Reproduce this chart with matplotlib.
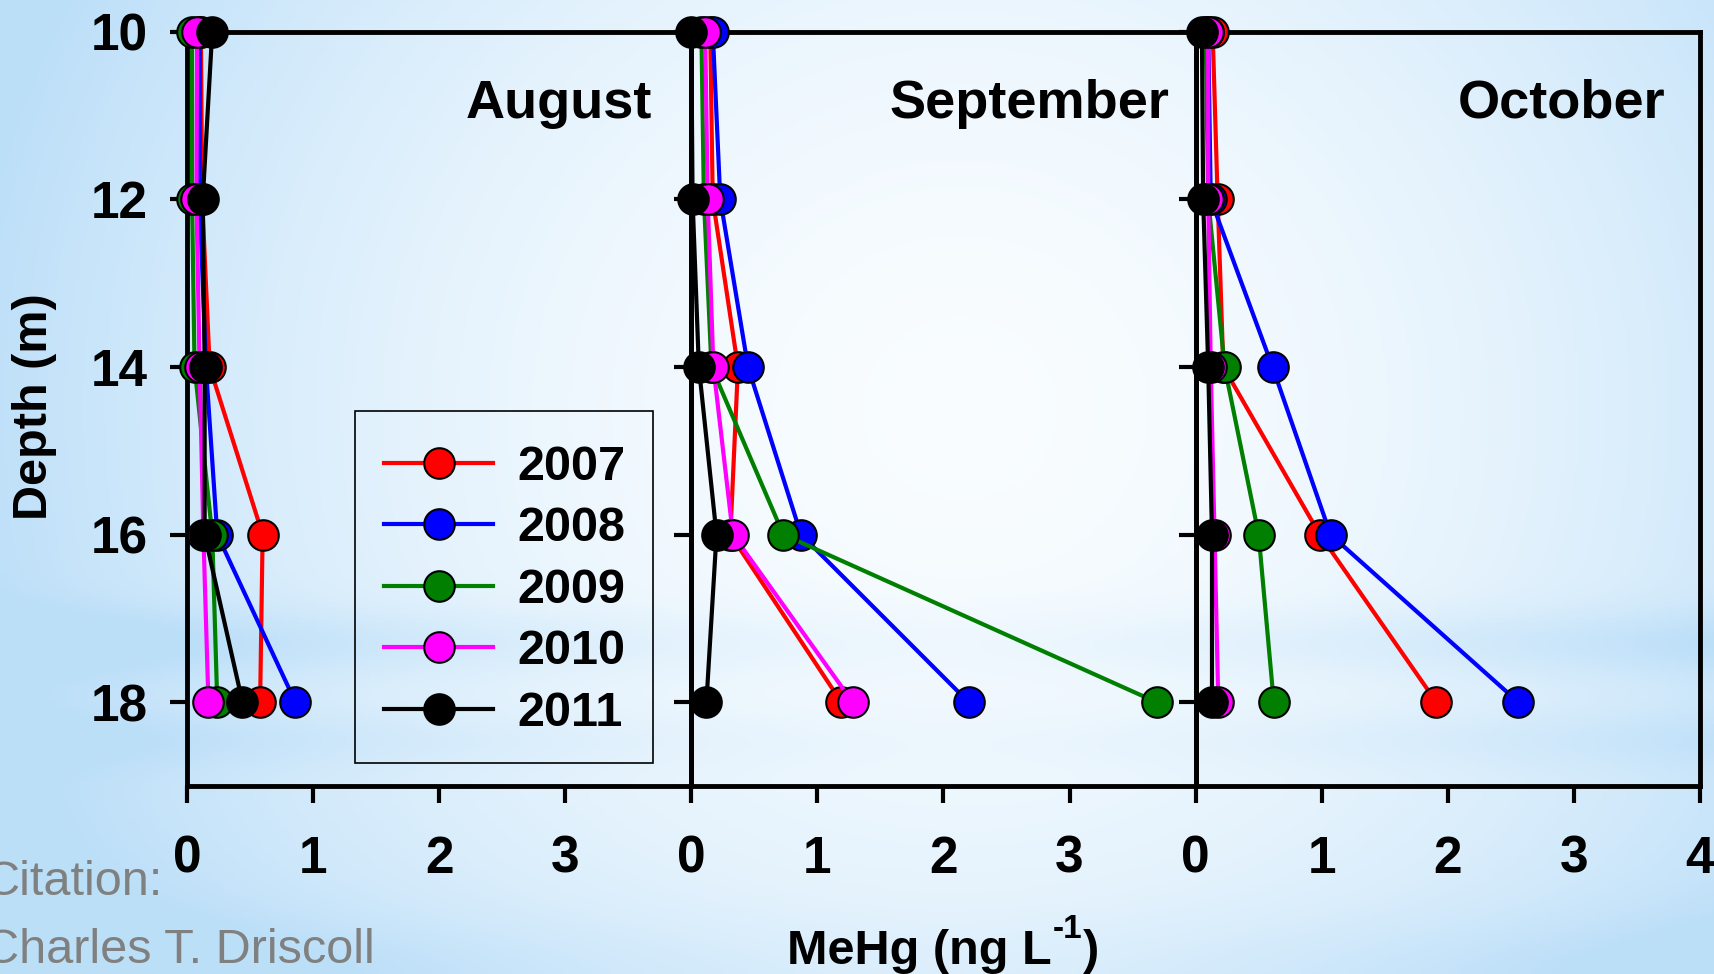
import numpy as np
import matplotlib
matplotlib.use("Agg")
import matplotlib.pyplot as plt
from matplotlib.lines import Line2D
from matplotlib.patches import Rectangle

plt.rcParams['font.family'] = ['Liberation Sans', 'DejaVu Sans']

# ---------------- data ----------------
depths = [10, 12, 14, 16, 18]
years = ['2007', '2008', '2009', '2010', '2011']
months = ['August', 'September', 'October']
colors = ['#FF0000', '#0000FF', '#007F00', '#FF00FF', '#000000']

aug_2007 = [0.11, 0.12, 0.18, 0.60, 0.58]
aug_2008 = [0.10, 0.10, 0.15, 0.24, 0.86]
aug_2009 = [0.04, 0.04, 0.06, 0.20, 0.24]
aug_2010 = [0.08, 0.075, 0.10, 0.13, 0.17]
aug_2011 = [0.20, 0.125, 0.14, 0.14, 0.44]

sep_2007 = [0.15, 0.17, 0.37, 0.31, 1.19]
sep_2008 = [0.17, 0.23, 0.45, 0.87, 2.20]
sep_2009 = [0.08, 0.10, 0.16, 0.73, 3.69]
sep_2010 = [0.11, 0.13, 0.175, 0.33, 1.28]
sep_2011 = [0.00, 0.01, 0.06, 0.20, 0.12]

oct_2007 = [0.135, 0.175, 0.22, 0.985, 1.91]
oct_2008 = [0.10, 0.12, 0.61, 1.07, 2.56]
oct_2009 = [0.08, 0.10, 0.23, 0.50, 0.62]
oct_2010 = [0.10, 0.10, 0.12, 0.15, 0.18]
oct_2011 = [0.05, 0.06, 0.10, 0.13, 0.13]

panels = [
    [aug_2007, aug_2008, aug_2009, aug_2010, aug_2011],
    [sep_2007, sep_2008, sep_2009, sep_2010, sep_2011],
    [oct_2007, oct_2008, oct_2009, oct_2010, oct_2011],
]

x_ticks_inner = [0, 1, 2, 3]
x_ticks_last = [0, 1, 2, 3, 4]
y_ticks = [10, 12, 14, 16, 18]

# ---------------- figure ----------------
W, H = 1715, 974
fig = plt.figure(figsize=(W / 100, H / 100), dpi=100)

# background gradient
bg = fig.add_axes([0, 0, 1, 1], zorder=-10)
yy, xx = np.mgrid[0:1:300j, 0:1:500j]
r = np.sqrt(((xx - 0.56) / 0.58) ** 2 + ((yy - 0.42) / 0.95) ** 2)
t = np.clip(r, 0, 1) ** 1.8
side = np.clip(np.abs(xx - 0.55) * 2.2, 0, 1)
band = np.exp(-((yy - 0.66) / 0.035) ** 2) * (0.25 + 0.75 * side)
band2 = np.exp(-((yy - 0.76) / 0.03) ** 2) * (0.2 + 0.6 * side)
bottom_t = np.exp(-((yy - 1.0) / 0.06) ** 2) * (0.2 + 0.8 * side)
t = np.clip(t + 0.35 * band + 0.25 * band2 + 0.3 * bottom_t, 0, 1)
c_in = np.array([0.975, 0.99, 1.0])
c_out = np.array([0.74, 0.875, 0.975])
img = c_in[None, None, :] * (1 - t[..., None]) + c_out[None, None, :] * t[..., None]
bg.imshow(img, aspect='auto', extent=[0, 1, 1, 0])
bg.set_xlim(0, 1)
bg.set_ylim(1, 0)
bg.axis('off')

left = 187 / W
pw = 504.3 / W
bottom = 1 - 786 / H
ph = (786 - 31.7) / H
month_x = [0.9215, 0.948, 0.931]

axes = []
for i in range(3):
    ax = fig.add_axes([left + i * pw, bottom, pw, ph])
    ax.patch.set_alpha(0)
    axes.append(ax)
    for k, (vals, col) in enumerate(zip(panels[i], colors)):
        ax.plot(vals, depths, color=col, lw=3, marker='o', ms=22,
                mfc=col, mec='black', mew=1.5, zorder=3 + k, clip_on=False)
    ax.set_xlim(0, 4)
    ax.set_ylim(19, 10)
    ax.set_yticks(y_ticks)
    ax.set_xticks(x_ticks_last if i == 2 else x_ticks_inner)
    ax.tick_params(axis='both', direction='out', length=12, width=3,
                   labelsize=37)
    ax.tick_params(axis='x', pad=23)
    ax.tick_params(axis='y', pad=16)
    for lab in ax.get_xticklabels() + ax.get_yticklabels():
        lab.set_fontweight('bold')
    if i > 0:
        ax.set_yticklabels([])
    for s in ax.spines.values():
        s.set_linewidth(3.5)
    ax.text(month_x[i], 0.886, months[i], transform=ax.transAxes, ha='right',
            va='baseline', fontsize=39, fontweight='bold')

# legend frame drawn separately, legend content without frame
frame = Rectangle((0.333, 0.0306), 0.9235 - 0.333, 0.4975 - 0.0306,
                  transform=axes[0].transAxes, fill=False, ec='black',
                  lw=1.2, zorder=19, clip_on=False)
axes[0].add_patch(frame)
handles = [Line2D([], [], color=c, lw=3, marker='o', ms=22, mfc=c,
                  mec='black', mew=1.5) for c in colors]
leg = axes[0].legend(handles, years, loc='upper left',
                     bbox_to_anchor=(0.333, 0.491), borderaxespad=0,
                     prop={'size': 35, 'weight': 'bold'}, handlelength=2.25,
                     handletextpad=0.5, labelspacing=0.34, borderpad=0.6,
                     frameon=False)
leg.set_zorder(20)

fig.text(35 / W, 1 - 407 / H, 'Depth (m)', rotation=90, ha='center',
         va='center', fontsize=35, fontweight='bold')

# x label with small raised "-1"
renderer = fig.canvas.get_renderer()
base_y = 1 - 964 / H
t1 = fig.text(0, base_y, 'MeHg (ng L', ha='left', va='baseline',
              fontsize=35, fontweight='bold')
t2 = fig.text(0, 1 - 938 / H, '-1', ha='left', va='baseline',
              fontsize=24, fontweight='bold')
t3 = fig.text(0, base_y, ')', ha='left', va='baseline',
              fontsize=35, fontweight='bold')
w1 = t1.get_window_extent(renderer).width
w2 = t2.get_window_extent(renderer).width
w3 = t3.get_window_extent(renderer).width
gap = 1.0
total = w1 + gap + w2 + gap + w3
x0 = 943 - total / 2
t1.set_x(x0 / W)
t2.set_x((x0 + w1 + gap) / W)
t3.set_x((x0 + w1 + gap + w2 + gap) / W)

fig.text(-16 / W, 1 - 895 / H, 'Citation:', ha='left', va='baseline',
         fontsize=35, color='#808080')
fig.text(-16 / W, 1 - 963 / H, 'Charles T. Driscoll', ha='left',
         va='baseline', fontsize=35, color='#808080')

fig.savefig('out.png', dpi=100)
